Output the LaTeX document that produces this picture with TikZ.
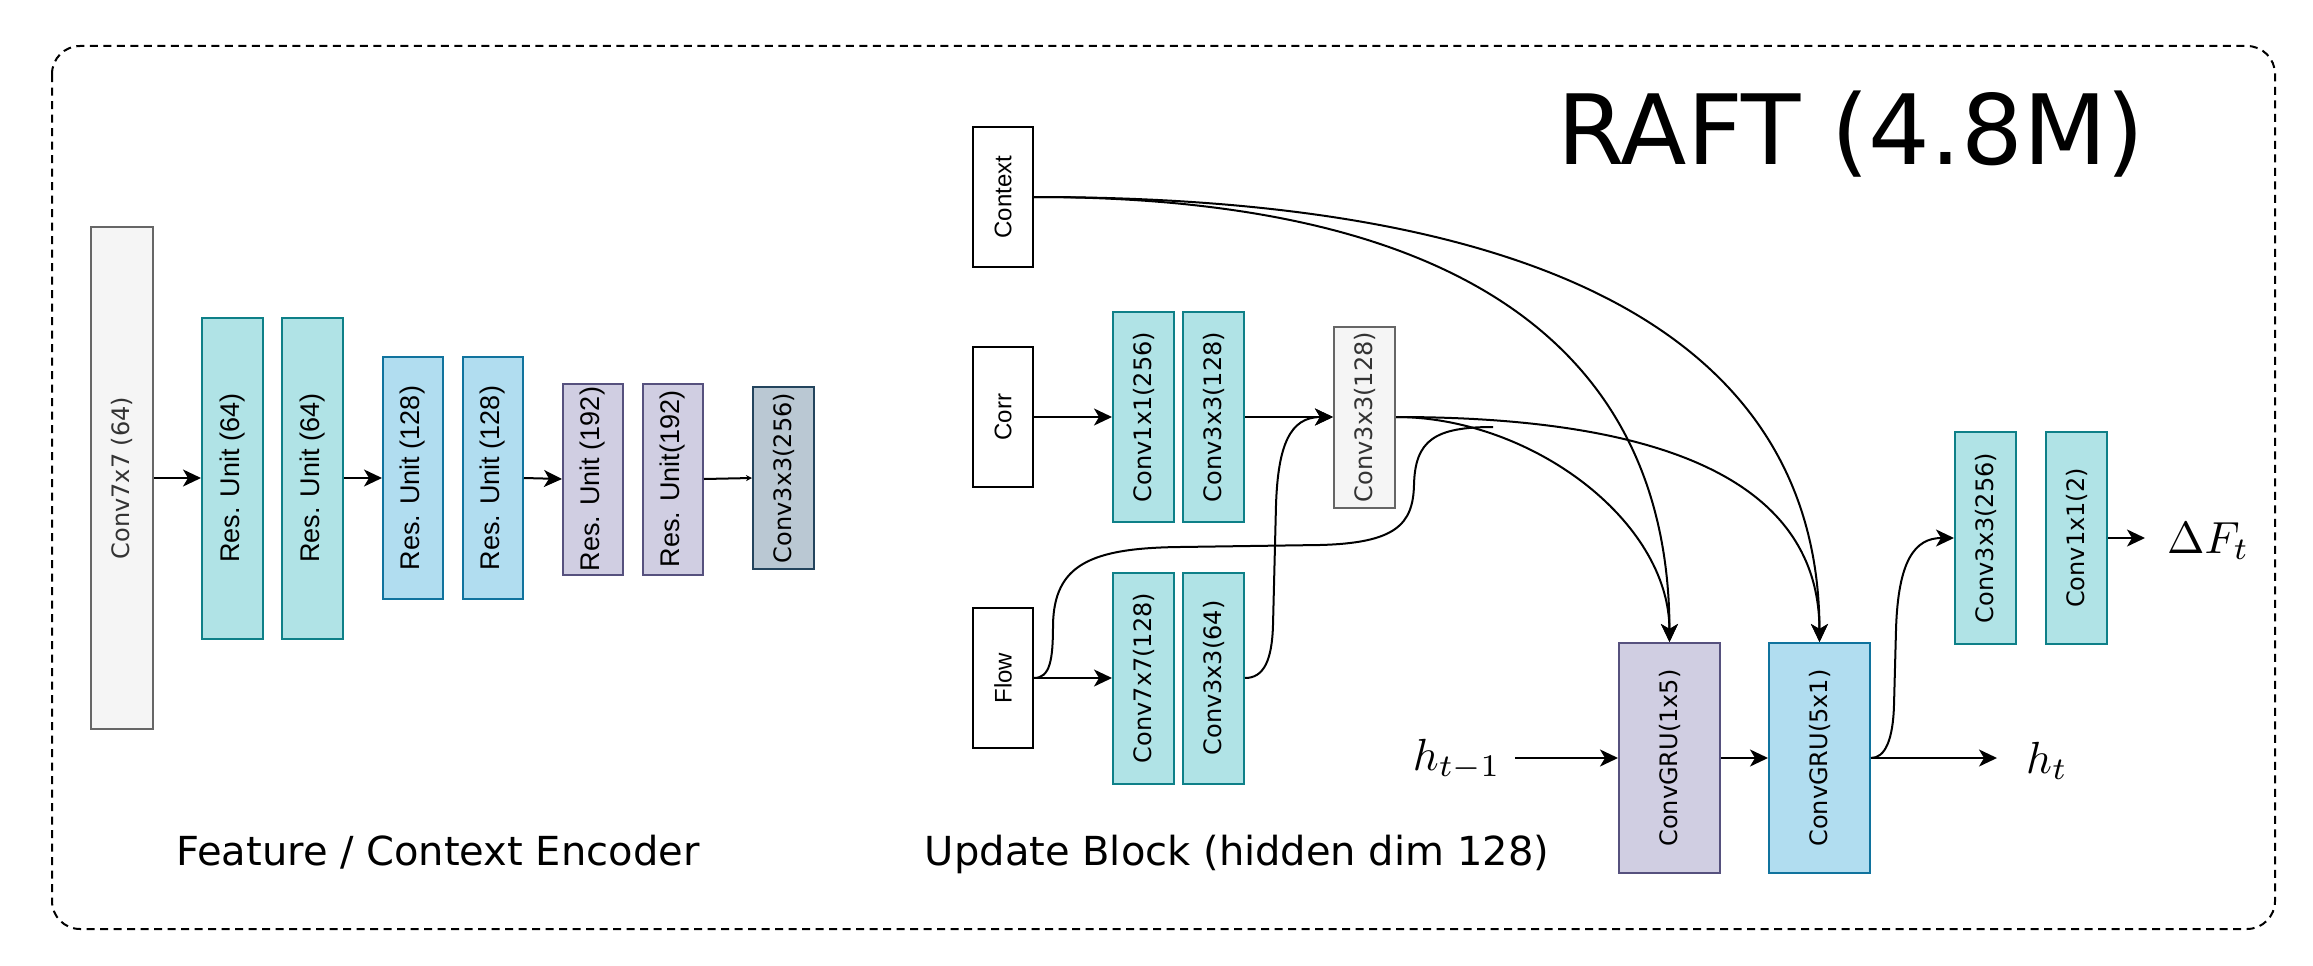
\documentclass[tikz,border=0pt]{standalone}
\usepackage[no-math]{fontspec}
\usepackage{xcolor}
\usepackage{tikz}
\usetikzlibrary{arrows.meta}
\newfontfamily\verdanaf{DejaVu Sans}
\newfontfamily\arialf{Liberation Sans}
\newcommand\convfont{\verdanaf\fontsize{24}{28}\selectfont}
\newcommand\resfont{\arialf\fontsize{27}{32}\selectfont}
\newcommand\inpfont{\arialf\fontsize{24}{28}\selectfont}
\newcommand\vlab[1]{\rotatebox{90}{#1}}
\definecolor{tealfill}{HTML}{B0E3E6}\definecolor{tealline}{HTML}{0E8088}
\definecolor{bluefill}{HTML}{B1DDF0}\definecolor{blueline}{HTML}{10739E}
\definecolor{purpfill}{HTML}{D0CEE2}\definecolor{purpline}{HTML}{56517E}
\definecolor{slatefill}{HTML}{BAC8D3}\definecolor{slateline}{HTML}{23445D}
\definecolor{greyfill}{HTML}{F5F5F5}\definecolor{greyline}{HTML}{666666}
\definecolor{greytext}{HTML}{333333}
\tikzset{
  blk/.style={draw, line width=2pt, inner sep=0pt},
  tealbox/.style={blk, fill=tealfill, draw=tealline},
  bluebox/.style={blk, fill=bluefill, draw=blueline},
  purpbox/.style={blk, fill=purpfill, draw=purpline},
  slatebox/.style={blk, fill=slatefill, draw=slateline},
  greybox/.style={blk, fill=greyfill, draw=greyline, text=greytext},
  inbox/.style={blk, fill=white, draw=black, minimum width=60pt, minimum height=140pt, font=\inpfont},
  arr/.style={-{Stealth[length=18pt,width=17pt,inset=5pt]}, line width=2pt},
  wire/.style={line width=2pt},
}

\begin{document}
\begin{tikzpicture}[x=1pt,y=-1pt]
\useasboundingbox (0,0) rectangle (2313,966);
\draw[line width=2pt, dash pattern=on 8pt off 5.5pt, rounded corners=28pt] (52,46) rectangle (2275,929);

% feature / context encoder
\node[greybox, minimum width=62pt, minimum height=502pt, font=\convfont] (c7) at (122,478) {\vlab{Conv7x7 (64)}};
\node[tealbox, minimum width=61pt, minimum height=321pt, font=\resfont] (r1) at (232.5,478) {\vlab{Res. Unit (64)}};
\node[tealbox, minimum width=61pt, minimum height=321pt, font=\resfont] (r2) at (312.5,478) {\vlab{Res. Unit (64)}};
\node[bluebox, minimum width=60pt, minimum height=242pt, font=\resfont] (r3) at (413,478) {\vlab{Res. Unit (128)}};
\node[bluebox, minimum width=60pt, minimum height=242pt, font=\resfont] (r4) at (493,478) {\vlab{Res. Unit (128)}};
\node[purpbox, minimum width=60pt, minimum height=191pt, font=\resfont] (r5) at (593,479) {\vlab{Res. Unit (192)}};
\node[purpbox, minimum width=60pt, minimum height=191pt, font=\resfont] (r6) at (673,479) {\vlab{Res. Unit(192)}};
\node[slatebox, minimum width=61pt, minimum height=182pt, font=\convfont] (c3l) at (783.5,478) {\vlab{Conv3x3(256)}};
\draw[arr] (c7.east) -- (r1.west);
\draw[arr] (r2.east) -- (r3.west);
\draw[arr] (r4.east) -- (r5.west);
\draw[wire, -{Stealth[length=6pt,width=6pt]}] (r6.east) -- (c3l.west);
\node[anchor=base, inner sep=0pt, font=\verdanaf\fontsize{40}{48}\selectfont] (enclab) at (438,865) {Feature / Context Encoder};

% update block
\node[inbox] (ctx) at (1003,197) {\vlab{Context}};
\node[inbox] (corr) at (1003,417) {\vlab{Corr}};
\node[inbox] (flow) at (1003,678) {\vlab{Flow}};
\node[tealbox, minimum width=61pt, minimum height=210pt, font=\convfont] (c11) at (1143.5,417) {\vlab{Conv1x1(256)}};
\node[tealbox, minimum width=61pt, minimum height=210pt, font=\convfont] (c33a) at (1213.5,417) {\vlab{Conv3x3(128)}};
\node[tealbox, minimum width=61pt, minimum height=211pt, font=\convfont] (c77) at (1143.5,678) {\vlab{Conv7x7(128)}};
\node[tealbox, minimum width=61pt, minimum height=211pt, font=\convfont] (c33b) at (1213.5,678) {\vlab{Conv3x3(64)}};
\node[greybox, minimum width=61pt, minimum height=181pt, font=\convfont] (c33g) at (1364.5,417) {\vlab{Conv3x3(128)}};
\node[purpbox, minimum width=101pt, minimum height=230pt, font=\convfont] (gru1) at (1669.5,758) {\vlab{ConvGRU(1x5)}};
\node[bluebox, minimum width=101pt, minimum height=230pt, font=\convfont] (gru2) at (1819.5,758) {\vlab{ConvGRU(5x1)}};
\node[tealbox, minimum width=61pt, minimum height=212pt, font=\convfont] (c33r) at (1985.5,538) {\vlab{Conv3x3(256)}};
\node[tealbox, minimum width=61pt, minimum height=212pt, font=\convfont] (c11r) at (2076.5,538) {\vlab{Conv1x1(2)}};
\node[anchor=base east, inner sep=0pt, inner xsep=14pt] (hprev) at (1515,770) {\scalebox{4.5}{$h_{t-1}$}};
\node[anchor=base west, inner sep=0pt, inner xsep=29pt] (ht) at (1997,773) {\scalebox{4.5}{$h_t$}};
\node[anchor=base west, inner sep=0pt, inner xsep=22pt] (dF) at (2145,553) {\scalebox{4.5}{$\Delta F_t$}};
\coordinate (fjoin) at (1493,427);

\draw[arr] (corr.east) -- (c11.west);
\draw[arr] (c33a.east) -- (c33g.west);
\draw[arr] (flow.east) -- (c77.west);
\draw[arr] (c33b.east) .. controls (1264,678) and (1272,660) .. (1273,625) -- (1276,505) .. controls (1278,445) and (1290,417) .. (c33g.west);
\draw[wire] (flow.east) .. controls (1050,678) and (1053,660) .. (1053,625) .. controls (1054,565) and (1090,548) .. (1180,547) -- (1320,545) .. controls (1395,543) and (1413,525) .. (1414,485) .. controls (1415,440) and (1435,427) .. (fjoin);
\draw[arr] (ctx.east) .. controls (1540,197) and (1669,410) .. (gru1.north);
\draw[arr] (ctx.east) .. controls (1662,197) and (1819,410) .. (gru2.north);
\draw[arr] (c33g.east) .. controls (1530,417) and (1669,520) .. (gru1.north);
\draw[arr] (c33g.east) .. controls (1700,417) and (1819,500) .. (gru2.north);
\draw[arr] (hprev.east |- gru1.west) -- (gru1.west);
\draw[arr] (gru1.east) -- (gru2.west);
\draw[arr] (gru2.east) -- (ht.west |- gru2.east);
\draw[arr] (gru2.east) .. controls (1885,758) and (1893,740) .. (1894,705) -- (1896,630) .. controls (1898,560) and (1915,538) .. (c33r.west);
\draw[arr] (c11r.east) -- (dF.west |- c11r.east);
\node[anchor=base, inner sep=0pt, font=\verdanaf\fontsize{40}{48}\selectfont] (updlab) at (1237,865) {Update Block (hidden dim 128)};
\node[anchor=base west, inner sep=0pt, font=\verdanaf\fontsize{97}{110}\selectfont] (title) at (1557,164) {RAFT (4.8M)};
\end{tikzpicture}
\end{document}
